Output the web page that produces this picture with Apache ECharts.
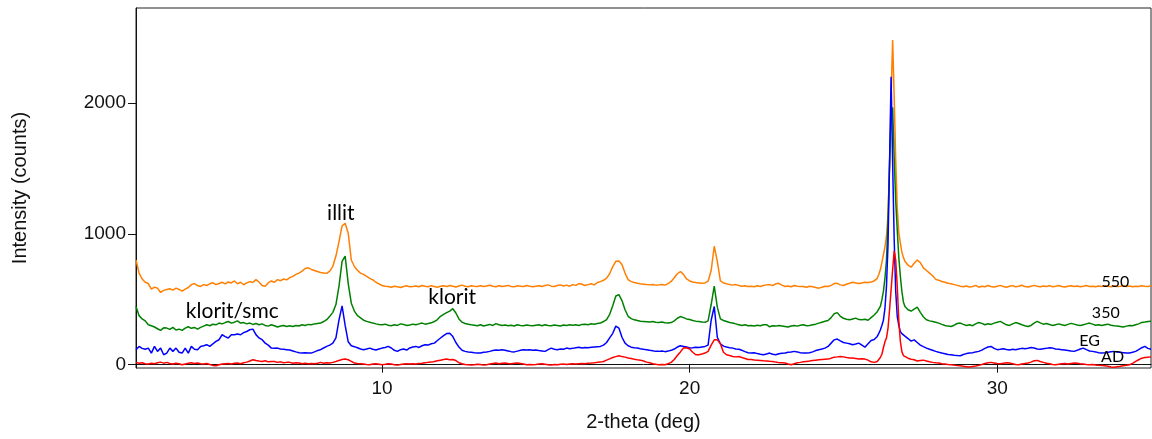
<!DOCTYPE html>
<html>
<head>
<meta charset="UTF-8">
<title>XRD - 550 / 350 / EG / AD</title>
<script src="https://cdn.jsdelivr.net/npm/echarts@6/dist/echarts.min.js"></script>
<style>
    html, body { margin: 0; padding: 0; background: #fff; }
    #xrd { width: 1152px; height: 439px; }
</style>
</head>
<body>
<div id="xrd"></div>
<script type="text/javascript">
// measuring steps: 0.1 deg, 0.05 deg between 26 and 27 deg
var twoTheta = [];
for (var d = 2; d < 35; d++) {
    var n = d === 26 ? 20 : 10;
    for (var i = 0; i < n; i++) twoTheta.push(+(d + i / n).toFixed(2));
}
twoTheta.push(35);

// one line per degree (26 deg has 20 values)
var i550 = [
    800,700,655,630,620,578,592,585,552,568,
    575,580,570,585,575,562,578,590,612,620,
    605,598,612,605,618,626,612,620,630,618,
    632,625,640,618,630,611,625,635,628,650,
    632,605,600,625,640,630,650,642,655,648,
    665,675,690,700,715,735,740,728,720,712,
    705,700,698,715,752,830,940,1060,1080,1005,
    800,750,722,700,690,675,660,648,630,618,
    605,600,598,592,600,596,590,598,603,595,
    598,602,596,605,600,596,604,598,592,600,
    603,597,605,600,594,602,608,600,596,603,
    600,598,604,597,602,607,600,596,603,598,
    602,606,598,595,603,600,597,605,600,596,
    600,604,598,606,610,600,598,605,610,602,
    608,600,612,606,620,615,605,612,618,610,
    628,635,645,662,695,750,790,792,765,700,
    650,635,628,622,618,615,612,610,612,608,
    610,612,608,620,636,665,695,712,690,655,
    640,632,628,625,622,625,638,720,905,790,
    640,625,618,612,608,612,605,600,604,598,
    600,596,603,598,605,610,612,605,618,622,
    608,598,602,596,605,600,597,598,592,600,
    595,590,585,592,600,598,606,620,622,610,
    605,615,622,630,625,620,625,630,628,632,
    640,645,660,690,725,780,840,900,980,1150,1520,2050,2480,2050,1560,1200,1010,930,860,820,
    790,760,745,775,800,780,740,720,700,680,
    652,645,636,630,622,618,612,606,600,596,
    602,594,598,606,592,600,596,605,598,594,
    600,606,598,592,600,604,596,600,607,598,
    594,600,606,600,596,602,598,604,596,600,
    605,598,594,600,604,598,602,596,600,605,
    598,600,596,602,598,604,600,596,602,598,
    600,604,598,602,596,600,598,604,600,597,
    603
];
var i350 = [
    445,375,350,335,305,298,288,275,262,282,
    280,270,285,265,272,262,280,290,278,285,
    272,285,295,305,298,310,305,318,312,322,
    330,318,325,335,318,322,312,318,308,315,
    305,312,300,295,305,298,288,296,300,292,
    298,292,300,296,305,300,308,305,312,315,
    318,330,344,370,400,460,600,790,830,620,
    470,410,375,358,340,331,325,318,312,308,
    305,310,302,298,305,300,312,308,300,304,
    310,306,312,318,310,315,320,330,345,370,
    385,398,410,428,395,350,325,315,310,305,
    302,298,305,296,302,308,300,314,305,300,
    304,298,302,296,305,300,298,304,300,297,
    302,305,298,306,300,298,304,300,296,303,
    300,306,302,305,300,308,310,306,313,310,
    315,318,330,345,385,450,525,535,490,420,
    370,352,343,338,332,330,328,326,330,324,
    322,326,320,318,322,335,355,368,360,350,
    345,338,333,330,326,324,335,460,600,440,
    350,338,330,322,318,312,306,300,305,298,
    300,296,302,298,305,306,290,298,295,300,
    296,292,288,296,300,295,302,305,298,300,
    305,310,318,325,332,338,360,390,398,370,
    355,348,343,350,356,345,343,348,340,360,
    380,392,405,418,445,495,560,660,800,1100,1540,1900,1965,1580,1250,1030,820,680,560,480,
    445,420,410,425,440,400,365,343,335,330,
    325,318,308,300,295,292,302,315,318,308,
    300,305,298,312,323,316,305,313,308,318,
    325,331,318,305,300,312,322,315,305,298,
    292,300,318,331,320,310,315,308,300,306,
    312,305,300,308,316,310,304,300,306,312,
    318,310,302,306,300,305,310,302,298,295,
    292,288,295,300,298,305,312,323,326,330,
    332
];
var iEG = [
    115,140,125,118,127,89,140,102,127,76,
    89,127,102,127,95,89,127,89,140,118,
    115,140,145,153,140,160,178,191,229,215,
    204,229,229,235,229,245,254,267,272,230,
    205,191,165,150,127,125,127,120,118,115,
    112,105,98,92,89,92,90,89,98,108,
    115,128,140,150,165,205,343,450,300,175,
    145,138,130,120,115,120,127,118,112,120,
    127,132,140,128,110,102,115,120,112,128,
    135,140,132,145,153,150,160,165,185,204,
    222,238,240,215,170,135,110,102,98,95,
    92,90,89,95,98,102,108,112,110,115,
    110,105,100,98,104,110,115,112,115,110,
    112,108,105,102,115,127,118,115,120,118,
    127,122,125,130,134,128,132,130,134,136,
    138,140,150,170,205,240,295,280,210,165,
    145,134,130,127,122,118,115,110,106,102,
    102,105,100,104,110,120,135,145,140,135,
    128,130,134,132,136,140,150,340,445,210,
    160,142,135,130,127,120,118,110,100,92,
    89,92,85,80,76,82,89,80,76,84,
    88,89,95,98,102,98,92,89,90,92,
    98,108,115,120,127,140,165,190,196,182,
    170,165,160,153,158,165,150,134,160,185,
    192,205,216,240,265,300,340,430,600,920,1540,2200,1540,960,560,370,300,255,238,225,
    218,200,180,190,170,150,138,127,118,110,
    102,95,89,84,78,76,72,70,69,78,
    85,89,92,98,102,112,125,135,140,125,
    115,118,122,116,112,118,115,120,125,122,
    126,132,128,120,118,122,125,130,127,120,
    118,115,112,108,104,102,110,120,127,115,
    105,102,98,92,89,92,96,100,102,98,
    95,92,89,90,95,102,115,130,140,125,
    118
];
var iAD = [
    18,12,15,8,5,12,8,15,20,12,
    18,10,5,12,8,0,6,12,15,10,
    13,8,5,10,2,-5,-8,0,5,8,
    10,6,12,13,8,15,20,28,38,32,
    28,25,30,22,25,25,18,22,15,18,
    18,12,15,13,8,12,8,10,8,12,
    18,12,15,13,18,25,33,40,43,38,
    25,13,10,8,5,2,0,5,8,4,
    0,3,8,5,0,-3,2,6,8,5,
    8,5,10,12,15,18,20,25,30,35,
    40,43,38,40,32,15,8,2,0,-2,
    0,4,2,-3,0,5,10,13,8,12,
    13,10,8,12,13,10,5,0,2,0,
    2,5,8,4,0,-2,2,0,3,5,
    2,6,8,5,8,10,8,12,13,15,
    18,20,25,35,45,55,62,68,62,58,
    52,48,42,38,35,28,20,15,8,3,
    0,2,0,8,18,40,70,98,128,130,
    120,95,76,76,82,89,102,150,190,190,
    160,95,76,70,63,60,63,55,48,40,
    40,36,35,33,30,28,26,25,20,16,
    15,13,5,0,8,15,18,22,25,28,
    32,35,38,40,42,43,50,58,60,63,
    60,55,52,51,48,43,45,43,35,22,
    18,22,25,35,55,80,130,175,205,280,420,573,726,870,800,600,340,180,100,70,
    58,50,42,38,28,32,35,28,22,18,
    15,13,8,5,2,0,-3,-6,-8,-12,
    -15,-18,-14,-10,-5,2,10,15,18,14,
    10,8,12,15,13,8,2,0,5,10,
    13,20,30,33,25,18,12,8,2,0,
    4,8,10,6,10,13,12,8,5,2,
    0,2,-2,-4,-5,-8,-12,-18,-20,-15,
    -12,-8,-4,0,10,25,38,50,55,58,
    60
];

var xTicks = [10, 20, 30];
var yTicks = [0, 1000, 2000];

// mineral notes, centre of the text in data units
var noteText = ['illit', 'klorit/smc', 'klorit'];
var noteX = [8.66, 5.13, 12.28];
var noteY = [1154, 405, 512];

// sample tags at the right end of each curve
var tagText = ['550', '350', 'EG', 'AD'];
var tagX = [33.84, 33.53, 33.0, 33.75];
var tagY = [634, 397, 183, 61];

var names = ['550', '350', 'EG', 'AD'];
var colors = ['#ff7f00', '#008000', '#0000ff', '#ff0000'];
var curves = [i550, i350, iEG, iAD];

var chart = echarts.init(document.getElementById('xrd'));

var series = curves.map(function (vals, k) {
    return {
        name: names[k],
        type: 'line',
        showSymbol: false,
        symbol: 'none',
        lineStyle: {color: colors[k], width: 1.5},
        data: twoTheta.map(function (x, j) { return [x, vals[j]]; })
    };
});

// scatter fades to 0.8 by default, keep the text solid black
function textSeries(txt, xs, ys, size) {
    return {
        type: 'scatter',
        silent: true,
        symbolSize: 0,
        z: 5,
        itemStyle: {opacity: 1},
        label: {
            show: true,
            position: 'inside',
            formatter: '{b}',
            color: '#000',
            opacity: 1,
            fontFamily: 'Lato',
            fontSize: size
        },
        data: txt.map(function (t, k) { return {name: t, value: [xs[k], ys[k]]}; })
    };
}
series.push(textSeries(noteText, noteX, noteY, 21));
series.push(textSeries(tagText, tagX, tagY, 16));

var option = {
    animation: false,
    grid: {
        left: 136, right: 1, top: 8, bottom: 71,
        show: true, borderColor: '#222', borderWidth: 1
    },
    xAxis: {
        type: 'value',
        min: 2,
        max: 35,
        name: '2-theta (deg)',
        nameLocation: 'middle',
        nameGap: 44,
        nameTextStyle: {fontFamily: 'Liberation Sans', fontSize: 20, color: '#111'},
        axisLine: {lineStyle: {color: '#111', width: 1}},
        axisTick: {length: 8, customValues: xTicks, lineStyle: {color: '#111'}},
        axisLabel: {customValues: xTicks, margin: 11, fontFamily: 'Liberation Sans', fontSize: 19, color: '#111'},
        splitLine: {show: false}
    },
    yAxis: {
        type: 'value',
        min: -25,
        max: 2725,
        name: 'Intensity (counts)',
        nameLocation: 'middle',
        nameGap: 106,
        nameTextStyle: {fontFamily: 'Liberation Sans', fontSize: 20, color: '#111'},
        axisLine: {show: true, lineStyle: {color: '#111', width: 1}},
        axisTick: {show: true, length: 8, customValues: yTicks, lineStyle: {color: '#111'}},
        axisLabel: {
            customValues: yTicks,
            margin: 10,
            fontFamily: 'Liberation Sans',
            fontSize: 19,
            color: '#111',
            formatter: function (v) { return String(v); }
        },
        splitLine: {show: false}
    },
    series: series
};

chart.setOption(option);
</script>
</body>
</html>
